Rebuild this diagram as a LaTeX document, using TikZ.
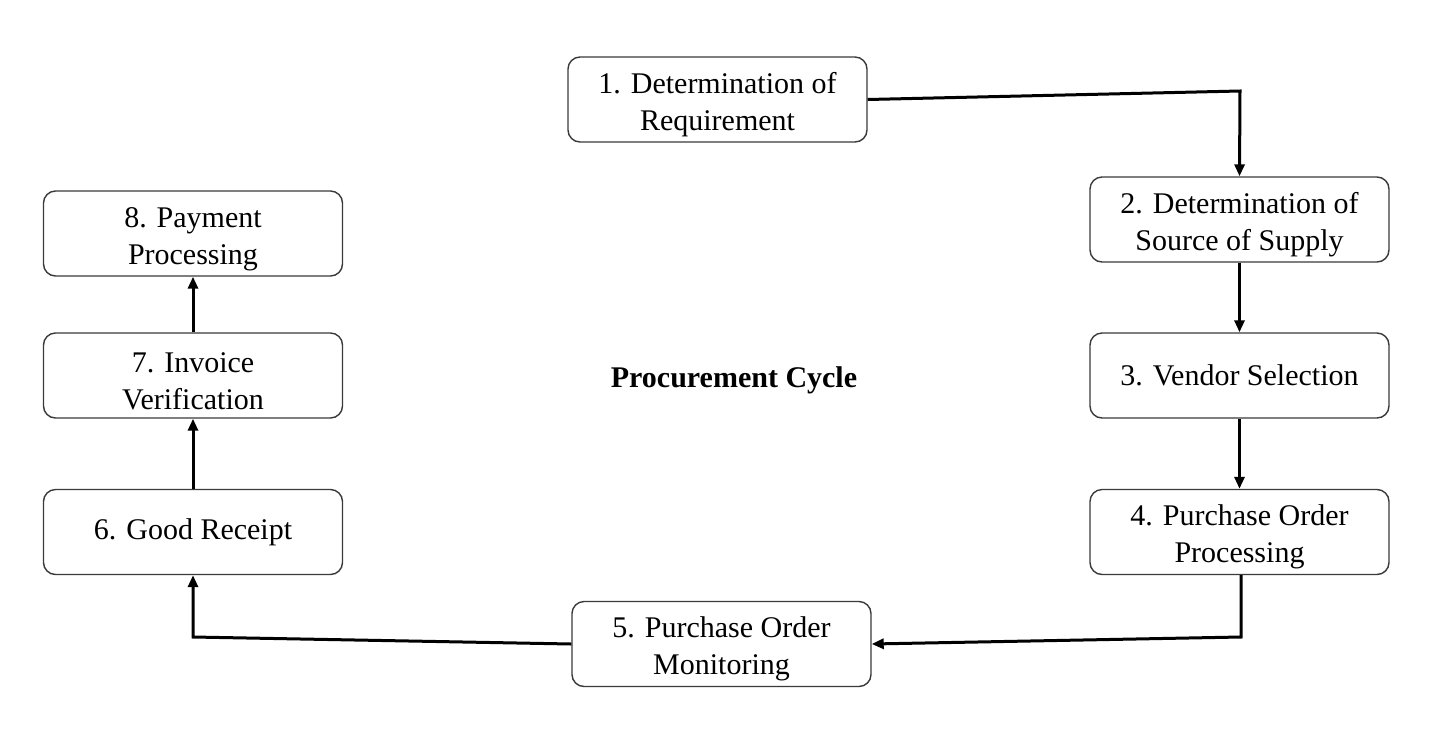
\documentclass[tikz,border=0pt]{standalone}
\usepackage{fontspec}
\setmainfont{Liberation Serif}
\usetikzlibrary{positioning, arrows.meta, calc}
\definecolor{boxline}{HTML}{3A3A3A}
\newcommand{\toppad}{\rule{0pt}{15.5pt}}

\tikzset{
  stagebox/.style={draw=boxline, line width=0.7pt, rounded corners=6pt, fill=white,
    minimum width=149.5pt, minimum height=42.5pt, align=center, inner sep=2pt,
    font=\fontsize{15}{18.5}\selectfont},
  flow/.style={line width=1.5pt, -{Triangle[length=6pt, width=5pt]}}
}

\begin{document}
\begin{tikzpicture}[x=0.5pt, y=-0.5pt]
  \useasboundingbox (0,0) rectangle (1431,735);
  % stages of the cycle
  \node[stagebox] (req)    at (717.5,99.5)  {\toppad 1. Determination of\\Requirement};
  \node[stagebox] (src)    at (1239.5,219.5) {\toppad 2. Determination of\\Source of Supply};
  \node[stagebox] (vend)   at (1239.5,375.5) {3. Vendor Selection};
  \node[stagebox] (poproc) at (1239.5,532)  {\toppad 4. Purchase Order\\Processing};
  \node[stagebox] (pomon)  at (721.5,644)   {\toppad 5. Purchase Order\\Monitoring};
  \node[stagebox] (gr)     at (193,532)     {6. Good Receipt};
  \node[stagebox] (inv)    at (193,375.5)   {\toppad 7. Invoice\\Verification};
  \node[stagebox] (pay)    at (193,233.5)   {\toppad 8. Payment\\Processing};
  \node[font=\fontsize{15}{18.5}\selectfont\bfseries] (title) at (734,380) {Procurement Cycle};
  % bend points
  \coordinate (k1) at (1240,91);
  \coordinate (k2) at (1241,637);
  \coordinate (k3) at (193,637);
  % connectors
  \draw[flow] (req.east) -- (k1) -- (src.north);
  \draw[flow] (src) -- (vend);
  \draw[flow] (vend) -- (poproc);
  \draw[flow] (poproc.south -| k2) -- (k2) -- (pomon.east);
  \draw[flow] (pomon.west) -- (k3) -- (gr.south);
  \draw[flow] (gr) -- (inv);
  \draw[flow] (inv) -- (pay);
\end{tikzpicture}
\end{document}
